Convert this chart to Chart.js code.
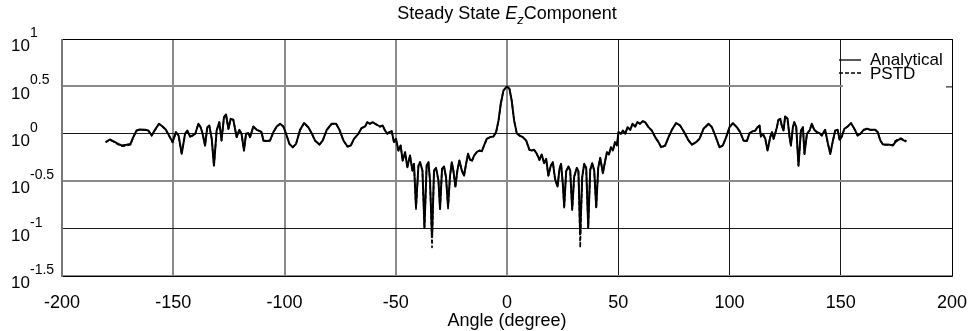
<!DOCTYPE html>
<html>
<head>
<meta charset="utf-8">
<script src="https://cdn.jsdelivr.net/npm/chart.js@4.4.1/dist/chart.umd.min.js"></script>
<style>
  html, body { margin: 0; padding: 0; background: #fff; }
  #wrap { width: 977px; height: 331px; }
</style>
</head>
<body>
<div id="wrap"><canvas id="c"></canvas></div>
<script>
// observation angle, degrees
var angles = [
  -180.4, -178.5, -177.0, -174.7, -173.2, -171.0, -169.2, -168.0, -166.5, -165.0,
  -162.7, -161.2, -159.7, -158.2, -156.4, -154.8, -153.3, -151.5, -150.3, -148.8,
  -147.6, -146.2, -144.7, -143.7, -142.5, -141.3, -140.1, -138.7, -137.7, -136.8,
  -135.7, -134.7, -133.8, -132.7, -131.7, -130.5, -129.3, -128.3, -127.2, -126.3,
  -125.2, -124.2, -123.0,
  -121.5, -120.3, -119.3, -118.2, -117.3, -116.3, -115.5, -114.8, -114.0, -112.5,
  -111.0, -110.3, -109.5, -108.0, -106.5, -105.0, -103.5, -102.0, -100.5, -99.3,
  -97.8, -96.3, -94.8, -93.0, -91.2, -89.3, -87.8, -86.3, -84.3, -82.8,
  -81.0, -78.8, -76.8, -75.3, -73.5, -71.7, -70.2, -68.8, -66.8, -65.3,
  -63.8, -62.8, -61.6, -60.4, -59.2,
  -57.1, -55.9, -54.8, -53.8, -52.9, -51.8, -50.8, -49.9, -48.8, -47.8,
  -46.9, -45.8, -44.8, -43.6, -42.5, -41.8, -40.9, -39.8, -39.1, -38.0,
  -37.1, -36.1, -35.3, -34.6, -33.7, -32.8, -31.9, -30.8, -30.1, -29.2,
  -28.3, -27.4, -26.5, -25.6, -24.8, -24.1, -23.2, -22.3, -21.4, -20.3,
  -19.3, -18.4, -17.5, -16.6, -15.7, -14.8, -13.6, -12.4, -11.3, -10.3,
  -9.1, -7.6, -6.1, -4.9, -3.8, -2.8, -1.6, 0,
  1.1, 2.1, 3.2, 4.4, 5.6, 7.1, 8.6, 10.1, 11.1, 12.2,
  13.4, 14.6, 15.6, 16.7, 17.6, 18.6, 19.7, 20.6, 21.6, 22.7,
  23.6, 24.3, 25.1, 25.7, 26.6, 27.6, 28.4, 29.3, 30.2, 31.4,
  32.1, 32.9, 33.8, 34.7, 35.6, 36.5, 37.4, 38.3, 39.2, 40.1,
  41.0, 41.9, 43.1, 44.0, 44.9, 45.8, 46.7, 47.6, 48.5, 49.4,
  50.1, 51.2, 52.1, 53.1, 54.2, 55.4, 56.4, 57.6, 58.6, 59.8,
  61.0, 62.1, 63.6, 65.1, 66.6, 68.1, 69.3, 71.1, 72.6, 74.1,
  76.0, 77.8, 79.6, 81.6, 83.1, 85.0, 86.5, 88.3, 90.6, 92.1,
  93.6, 95.5, 97.0, 98.5, 100.0, 101.5, 103.3, 104.8, 106.3, 107.8,
  109.0, 110.5, 111.6, 112.6, 113.5, 114.1, 115.0, 116.1, 117.1,
  118.3, 119.1, 119.8, 120.5, 121.3, 122.0, 122.8, 123.5, 124.3, 125.0,
  126.1, 127.0, 127.6, 128.5, 129.1, 130.0, 131.0, 132.1, 133.0, 133.7,
  134.8, 136.0, 137.0, 138.1, 139.3, 140.5, 141.5, 142.3, 143.0, 144.1,
  145.3, 146.5, 147.5, 148.6, 149.5, 150.5, 151.6, 153.1, 154.6, 156.1,
  157.6, 158.8, 160.3, 161.8, 163.3, 165.5, 166.6, 167.8, 169.0, 170.5,
  172.0, 173.5, 174.5, 176.0, 177.1, 178.3, 179.5
];

// log10 |Ez|, analytical solution
var analytical = [
  -0.088, -0.060, -0.077, -0.106, -0.123, -0.116, -0.106, -0.035, 0.035, 0.046,
  0.042, 0.035, -0.018, 0.042, 0.106, 0.077, 0.042, -0.035, -0.088, 0.018,
  -0.018, -0.211, 0, 0.035, -0.028, -0.018, 0, 0.106, 0.070, 0,
  -0.123, 0.070, 0.088, -0.053, -0.335, 0.035, 0.123, -0.070, 0.176, 0.204,
  0.053, 0.158, 0.148,
  -0.035, 0.042, 0, -0.176, 0, 0.007, -0.035, 0.018, 0.077, 0.042,
  0.028, 0.018, -0.070, -0.077, -0.070, 0.018, 0.077, 0.106, 0.077, 0,
  -0.106, -0.141, -0.106, 0.042, 0.113, 0.070, 0.007, -0.070, -0.113, -0.070,
  0.042, 0.106, 0.106, 0.042, -0.070, -0.134, -0.123, -0.053, 0, 0.063,
  0.077, 0.123, 0.106, 0.123, 0.106,
  0.077, 0.088, 0.035, 0, 0.018, 0.028, -0.088, -0.053, -0.176, -0.123,
  -0.282, -0.194, -0.352, -0.229, -0.387, -0.317, -0.775, -0.335, -0.299, -0.387,
  -0.986, -0.335, -0.299, -0.493, -1.09, -0.387, -0.359, -0.493, -0.792, -0.370,
  -0.345, -0.458, -0.768, -0.440, -0.299, -0.387, -0.556, -0.387, -0.282, -0.387,
  -0.440, -0.317, -0.211, -0.275, -0.282, -0.229, -0.194, -0.176, -0.183, -0.123,
  -0.053, -0.035, -0.028, 0.018, 0.141, 0.317, 0.458, 0.5,
  0.475, 0.352, 0.141, 0.007, -0.018, -0.035, -0.070, -0.169, -0.176, -0.169,
  -0.211, -0.275, -0.218, -0.310, -0.264, -0.440, -0.335, -0.299, -0.475, -0.556,
  -0.370, -0.317, -0.528, -0.768, -0.394, -0.345, -0.387, -0.792, -0.451, -0.359,
  -0.394, -1.06, -0.458, -0.317, -0.359, -0.986, -0.380, -0.310, -0.387, -0.775,
  -0.359, -0.254, -0.415, -0.299, -0.194, -0.218, -0.141, -0.176, -0.088, -0.123,
  0.018, 0, 0.035, 0, 0.070, 0.042, 0.106, 0.077, 0.123, 0.106,
  0.134, 0.123, 0.070, 0.035, -0.035, -0.088, -0.141, -0.123, -0.035, 0.042,
  0.113, 0.088, 0.018, -0.070, -0.113, -0.088, -0.053, 0.053, 0.106, 0.070,
  -0.018, -0.141, -0.123, -0.035, 0.070, 0.113, 0.070, 0.018, -0.070, -0.077,
  0.007, 0.028, 0.035, 0.070, 0.088, -0.028, 0, -0.053, -0.176,
  -0.035, 0.018, -0.053, 0, 0.070, 0.148, 0.158, 0.088, 0.035, 0.183,
  0.158, -0.035, -0.123, 0.070, 0.123, 0.070, -0.335, 0.035, 0.070, -0.211,
  0, 0.035, 0.106, 0.042, 0.018, 0.007, -0.018, 0.018, 0.042, -0.088,
  -0.211, -0.070, 0.035, 0.042, -0.063, -0.028, 0.053, 0.077, 0.113, 0.053,
  -0.018, 0, 0.042, 0.053, 0.042, 0.042, 0.018, -0.070, -0.113, -0.113,
  -0.116, -0.123, -0.088, -0.063, -0.053, -0.070, -0.081
];

// log10 |Ez|, PSTD simulation
var pstd = [
  -0.090, -0.064, -0.083, -0.114, -0.132, -0.126, -0.114, -0.040, 0.032, 0.044,
  0.040, 0.033, -0.020, 0.040, 0.104, 0.075, 0.040, -0.037, -0.090, 0.016,
  -0.020, -0.215, 0, 0.033, -0.030, -0.020, 0, 0.104, 0.068, 0,
  -0.126, 0.068, 0.086, -0.055, -0.340, 0.033, 0.121, -0.072, 0.174, 0.202,
  0.051, 0.156, 0.146,
  -0.037, 0.040, 0, -0.178, 0, 0.005, -0.037, 0.016, 0.075, 0.040,
  0.026, 0.016, -0.072, -0.079, -0.072, 0.016, 0.075, 0.104, 0.075, 0,
  -0.108, -0.143, -0.108, 0.040, 0.111, 0.068, 0.005, -0.072, -0.115, -0.072,
  0.040, 0.104, 0.104, 0.040, -0.072, -0.136, -0.125, -0.055, 0, 0.061,
  0.075, 0.121, 0.104, 0.121, 0.104,
  0.075, 0.086, 0.033, 0, 0.016, 0.026, -0.090, -0.055, -0.178, -0.125,
  -0.284, -0.196, -0.354, -0.231, -0.389, -0.319, -0.795, -0.337, -0.301, -0.389,
  -0.995, -0.337, -0.301, -0.495, -1.20, -0.389, -0.361, -0.495, -0.800, -0.372,
  -0.347, -0.460, -0.790, -0.442, -0.301, -0.389, -0.560, -0.389, -0.284, -0.389,
  -0.442, -0.319, -0.213, -0.277, -0.284, -0.231, -0.196, -0.178, -0.185, -0.125,
  -0.055, -0.037, -0.030, 0.016, 0.139, 0.315, 0.456, 0.498,
  0.473, 0.350, 0.139, 0.005, -0.020, -0.037, -0.072, -0.171, -0.178, -0.171,
  -0.213, -0.277, -0.220, -0.312, -0.266, -0.442, -0.337, -0.301, -0.477, -0.560,
  -0.372, -0.319, -0.530, -0.780, -0.396, -0.347, -0.389, -0.805, -0.453, -0.361,
  -0.396, -1.20, -0.460, -0.319, -0.361, -0.995, -0.382, -0.312, -0.389, -0.785,
  -0.361, -0.256, -0.417, -0.301, -0.196, -0.220, -0.143, -0.178, -0.090, -0.125,
  0.016, 0, 0.033, 0, 0.068, 0.040, 0.104, 0.075, 0.121, 0.104,
  0.132, 0.121, 0.068, 0.033, -0.037, -0.090, -0.143, -0.125, -0.037, 0.040,
  0.111, 0.086, 0.016, -0.072, -0.115, -0.090, -0.055, 0.051, 0.104, 0.068,
  -0.020, -0.143, -0.125, -0.037, 0.068, 0.111, 0.068, 0.016, -0.072, -0.079,
  0.005, 0.026, 0.033, 0.068, 0.086, -0.030, 0, -0.055, -0.178,
  -0.037, 0.016, -0.055, 0, 0.068, 0.146, 0.156, 0.086, 0.033, 0.181,
  0.156, -0.037, -0.126, 0.068, 0.121, 0.068, -0.340, 0.033, 0.068, -0.215,
  0, 0.033, 0.104, 0.040, 0.016, 0.005, -0.020, 0.016, 0.040, -0.090,
  -0.215, -0.072, 0.033, 0.040, -0.065, -0.030, 0.051, 0.075, 0.111, 0.051,
  -0.020, 0, 0.040, 0.051, 0.040, 0.040, 0.016, -0.072, -0.115, -0.117,
  -0.118, -0.115, -0.076, -0.052, -0.047, -0.064, -0.076
];

var xTicks = [-200, -150, -100, -50, 0, 50, 100, 150, 200];
var yExponents = [-1.5, -1, -0.5, 0, 0.5, 1];

var FONT = '"Liberation Sans", Arial, Helvetica, sans-serif';

function pts(vals) {
  return angles.map(function(a, i) { return { x: a, y: vals[i] }; });
}

// frame, tick labels, title and legend, drawn by hand for the 10^n labels
var decor = {
  id: 'decor',
  afterDraw: function(chart) {
    var ctx = chart.ctx, a = chart.chartArea;
    var xs = chart.scales.x, ys = chart.scales.y;
    ctx.save();

    // legend box (white, covers the grid in the corner)
    var lx = a.right - 110, ly = a.top + 1;
    ctx.fillStyle = '#fff';
    ctx.fillRect(lx + 1, ly, a.right - lx - 1, 53);
    ctx.strokeStyle = '#000';
    ctx.lineWidth = 1;
    ctx.beginPath();
    ctx.moveTo(a.right - 6, ys.getPixelForValue(0.5) + 0.5);
    ctx.lineTo(a.right, ys.getPixelForValue(0.5) + 0.5);
    ctx.stroke();

    ctx.lineWidth = 1.3;
    ctx.beginPath();
    ctx.moveTo(lx - 3, a.top + 21);
    ctx.lineTo(lx + 19, a.top + 21);
    ctx.stroke();
    ctx.setLineDash([4, 2]);
    ctx.beginPath();
    ctx.moveTo(lx - 3, a.top + 34);
    ctx.lineTo(lx + 19, a.top + 34);
    ctx.stroke();
    ctx.setLineDash([]);
    ctx.fillStyle = '#000';
    ctx.font = '17px ' + FONT;
    ctx.textAlign = 'left';
    ctx.textBaseline = 'middle';
    ctx.fillText('Analytical', lx + 28, a.top + 21);
    ctx.fillText('PSTD', lx + 28, a.top + 35);

    // plot frame
    ctx.strokeStyle = '#000';
    ctx.lineWidth = 1;
    ctx.beginPath();
    ctx.moveTo(a.left, a.top + 0.5);
    ctx.lineTo(a.right + 0.5, a.top + 0.5);
    ctx.lineTo(a.right + 0.5, a.bottom + 0.5);
    ctx.lineTo(a.left, a.bottom + 0.5);
    ctx.stroke();
    ctx.strokeStyle = '#777';
    ctx.lineWidth = 2;
    ctx.beginPath();
    ctx.moveTo(a.left, a.top);
    ctx.lineTo(a.left, a.bottom + 1);
    ctx.stroke();

    // x tick labels
    ctx.fillStyle = '#000';
    ctx.font = '18px ' + FONT;
    ctx.textAlign = 'center';
    ctx.textBaseline = 'middle';
    xTicks.forEach(function(v) {
      ctx.fillText(String(v), xs.getPixelForValue(v), a.bottom + 27);
    });
    ctx.font = '18px ' + FONT;
    ctx.fillText('Angle (degree)', (a.left + a.right) / 2, a.bottom + 45);

    // y tick labels as 10^e
    yExponents.forEach(function(e) {
      var y = ys.getPixelForValue(e);
      ctx.textAlign = 'left';
      ctx.textBaseline = 'top';
      ctx.font = '17px ' + FONT;
      ctx.fillText('10', 11, y - 1);
      ctx.textBaseline = 'alphabetic';
      ctx.font = '14px ' + FONT;
      ctx.fillText(String(e), 30, y - 2);
    });

    // title with italic E and subscript z
    var parts = [
      { t: 'Steady State ', f: '18px ' + FONT, dy: 0 },
      { t: 'E', f: 'italic 18px ' + FONT, dy: 0 },
      { t: 'z', f: 'italic 13px ' + FONT, dy: 5 },
      { t: 'Component', f: '18px ' + FONT, dy: 0 }
    ];
    var w = 0;
    parts.forEach(function(p) { ctx.font = p.f; p.w = ctx.measureText(p.t).width; w += p.w; });
    var tx = (a.left + a.right) / 2 - w / 2;
    ctx.textAlign = 'left';
    ctx.textBaseline = 'alphabetic';
    parts.forEach(function(p) {
      ctx.font = p.f;
      ctx.fillText(p.t, tx, 19 + p.dy);
      tx += p.w;
    });
    ctx.restore();
  }
};

new Chart(document.getElementById('c').getContext('2d'), {
  type: 'line',
  data: {
    datasets: [
      { label: 'Analytical', data: pts(analytical), borderColor: '#000', borderWidth: 2 },
      { label: 'PSTD', data: pts(pstd), borderColor: '#000', borderWidth: 1.6, borderDash: [4, 2] }
    ]
  },
  options: {
    responsive: true,
    maintainAspectRatio: false,
    animation: false,
    events: [],
    layout: { padding: { left: 62, right: 25, top: 39, bottom: 55 } },
    elements: { point: { radius: 0 }, line: { tension: 0, borderJoinStyle: 'round' } },
    plugins: { legend: { display: false }, tooltip: { enabled: false } },
    scales: {
      x: {
        type: 'linear', min: -200, max: 200,
        afterBuildTicks: function(axis) { axis.ticks = xTicks.map(function(v) { return { value: v }; }); },
        ticks: { display: false },
        border: { display: false },
        grid: {
          drawTicks: false,
          color: function(c) { return c.tick && c.tick.value > 0 ? '#1a1a1a' : '#8a8a8a'; },
          lineWidth: function(c) { return c.tick && c.tick.value > 0 ? 1 : 2; }
        }
      },
      y: {
        type: 'linear', min: -1.5, max: 1,
        afterBuildTicks: function(axis) { axis.ticks = yExponents.map(function(v) { return { value: v }; }); },
        ticks: { display: false },
        border: { display: false },
        grid: {
          drawTicks: false,
          color: function(c) { return c.tick && Number.isInteger(c.tick.value) ? '#1a1a1a' : '#8a8a8a'; },
          lineWidth: function(c) { return c.tick && Number.isInteger(c.tick.value) ? 1 : 2; }
        }
      }
    }
  },
  plugins: [decor]
});
</script>
</body>
</html>
